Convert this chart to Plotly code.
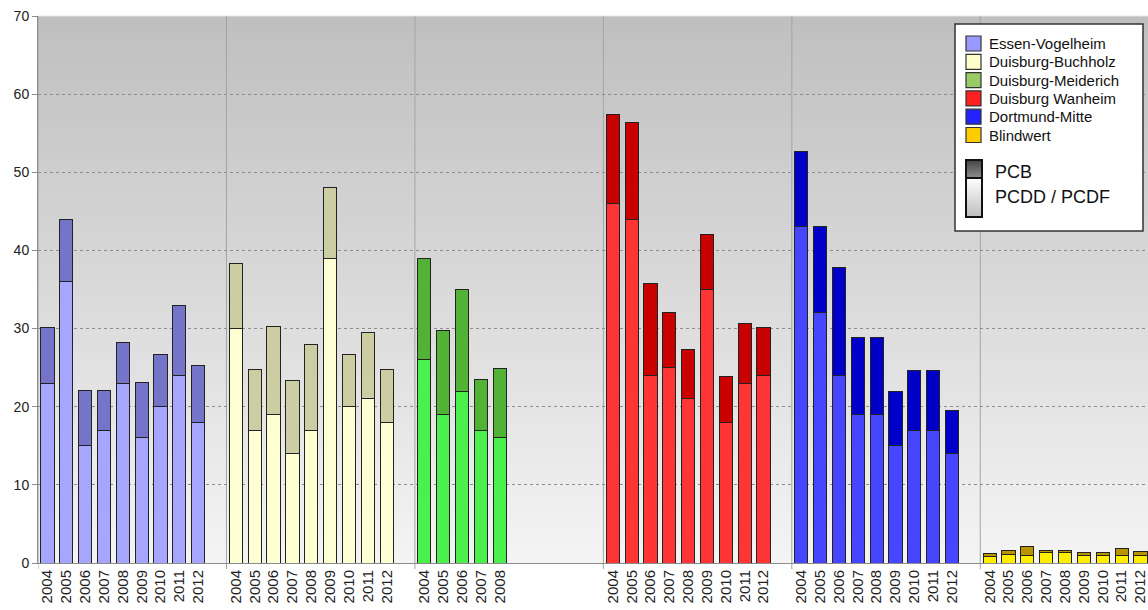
import plotly.graph_objects as go

# ---------------- data ----------------
sites = ["Essen-Vogelheim", "Duisburg-Buchholz", "Duisburg-Meiderich",
         "Duisburg Wanheim", "Dortmund-Mitte", "Blindwert"]

years_full = ["2004", "2005", "2006", "2007", "2008", "2009", "2010", "2011", "2012"]
years_short = ["2004", "2005", "2006", "2007", "2008"]

essen_total = [30.2, 44.0, 22.1, 22.1, 28.2, 23.1, 26.7, 33.0, 25.3]
essen_pcdd = [23.0, 36.0, 15.0, 17.0, 23.0, 16.0, 20.0, 24.0, 18.0]

buchholz_total = [38.3, 24.7, 30.3, 23.4, 28.0, 48.1, 26.7, 29.5, 24.8]
buchholz_pcdd = [30.0, 17.0, 19.0, 14.0, 17.0, 39.0, 20.0, 21.0, 18.0]

meiderich_total = [39.0, 29.7, 35.0, 23.5, 24.9]
meiderich_pcdd = [26.0, 19.0, 22.0, 17.0, 16.0]

wanheim_total = [57.4, 56.4, 35.8, 32.1, 27.3, 42.0, 23.9, 30.7, 30.2]
wanheim_pcdd = [46.0, 44.0, 24.0, 25.0, 21.0, 35.0, 18.0, 23.0, 24.0]

dortmund_total = [52.6, 43.0, 37.8, 28.9, 28.9, 22.0, 24.6, 24.6, 19.5]
dortmund_pcdd = [43.0, 32.0, 24.0, 19.0, 19.0, 15.0, 17.0, 17.0, 14.0]

blind_total = [1.2, 1.6, 2.1, 1.6, 1.6, 1.3, 1.3, 1.9, 1.5]
blind_pcdd = [0.8, 1.1, 1.0, 1.3, 1.3, 1.0, 0.9, 1.0, 1.0]

site_years = [years_full, years_full, years_short, years_full, years_full, years_full]
site_totals = [essen_total, buchholz_total, meiderich_total, wanheim_total, dortmund_total, blind_total]
site_pcdd = [essen_pcdd, buchholz_pcdd, meiderich_pcdd, wanheim_pcdd, dortmund_pcdd, blind_pcdd]

y_ticks = [0, 10, 20, 30, 40, 50, 60, 70]
legend_items = ["PCB", "PCDD / PCDF"]

# ---------------- styles ----------------
pcdd_colors = ["#a6a6ff", "#ffffd4", "#4cf04c", "#ff3535", "#4646ff", "#ffee00"]
pcb_colors = ["#7474c8", "#cdcda4", "#52b236", "#c80000", "#0000c8", "#b89400"]
legend_colors = ["#9999ff", "#ffffcc", "#99cc66", "#ff2020", "#2222ff", "#ffcc00"]

FONT = "Arial, Liberation Sans, sans-serif"
W, H = 1148, 610
ML, MT, MB, MR = 38, 16, 47, 0
PW, PH = W - ML - MR, H - MT - MB
SLOTS_PER_GROUP = 10

fig = go.Figure()

tickvals, ticktext = [], []
for g, name in enumerate(sites):
    xs = [g * SLOTS_PER_GROUP + i for i in range(len(site_years[g]))]
    tickvals += xs
    ticktext += site_years[g]
    pcb = [t - p for t, p in zip(site_totals[g], site_pcdd[g])]
    fig.add_trace(go.Bar(x=xs, y=site_pcdd[g], name=name + " PCDD/PCDF",
                         marker=dict(color=pcdd_colors[g], line=dict(color="#222222", width=1)),
                         width=0.7, showlegend=False))
    fig.add_trace(go.Bar(x=xs, y=pcb, name=name + " PCB",
                         marker=dict(color=pcb_colors[g], line=dict(color="#222222", width=1)),
                         width=0.7, showlegend=False))

shapes = []
# background gradient (overlapping bands, no seams)
NB = 70
for k in range(NB):
    f = (k + 0.5) / NB
    c = int(round(244 - (244 - 191) * f))
    shapes.append(dict(type="rect", xref="x domain", yref="y domain",
                       x0=0, x1=1, y0=k / NB, y1=1,
                       fillcolor=f"rgb({c},{c},{c})", line=dict(width=0), layer="below"))
# top border line
shapes.append(dict(type="line", xref="x domain", yref="y domain", x0=0, x1=1, y0=1, y1=1,
                   line=dict(color="#e6e6e6", width=1), layer="below"))
# group separators (extend below axis as ticks)
for g in range(len(sites)):
    xb = g * SLOTS_PER_GROUP - 0.5
    shapes.append(dict(type="line", xref="x", yref="paper", x0=xb, x1=xb,
                       y0=-6 / PH, y1=1, line=dict(color="#a4a4a4", width=1), layer="below"))


def px(x):
    return (x - ML) / PW


def py(y):
    return (H - MB - y) / PH


# manual legend
shapes.append(dict(type="rect", xref="paper", yref="paper",
                   x0=px(955), x1=px(1143), y0=py(231), y1=py(24),
                   fillcolor="white", line=dict(color="#333333", width=1.5), layer="above"))
annotations = []
row_y = [43.5, 61.8, 80.1, 98.4, 116.7, 135.0]
for i, name in enumerate(sites):
    yc = row_y[i]
    shapes.append(dict(type="rect", xref="paper", yref="paper",
                       x0=px(966), x1=px(981), y0=py(yc + 7.5), y1=py(yc - 7.5),
                       fillcolor=legend_colors[i], line=dict(color="#333333", width=1.2), layer="above"))
    annotations.append(dict(xref="paper", yref="paper", x=px(987), y=py(yc),
                            xanchor="left", yanchor="middle", text=name, showarrow=False,
                            font=dict(family=FONT, size=15, color="#111111")))

# PCB swatch (gradient dark)
top, bot = 160.0, 178.0
NS = 18
for k in range(NS):
    c = int(round(70 + (140 - 70) * k / (NS - 1)))
    y0 = top + (bot - top) * k / NS
    shapes.append(dict(type="rect", xref="paper", yref="paper",
                       x0=px(966), x1=px(982), y0=py(bot), y1=py(y0),
                       fillcolor=f"rgb({c},{c},{c})", line=dict(width=0), layer="above"))
# PCDD swatch (gradient light)
top2, bot2 = 178.0, 217.0
NS2 = 39
for k in range(NS2):
    c = int(round(255 - (255 - 190) * k / (NS2 - 1)))
    y0 = top2 + (bot2 - top2) * k / NS2
    shapes.append(dict(type="rect", xref="paper", yref="paper",
                       x0=px(966), x1=px(982), y0=py(bot2), y1=py(y0),
                       fillcolor=f"rgb({c},{c},{c})", line=dict(width=0), layer="above"))
shapes.append(dict(type="rect", xref="paper", yref="paper",
                   x0=px(966), x1=px(982), y0=py(bot), y1=py(top),
                   fillcolor="rgba(0,0,0,0)", line=dict(color="#111111", width=2), layer="above"))
shapes.append(dict(type="rect", xref="paper", yref="paper",
                   x0=px(966), x1=px(982), y0=py(bot2), y1=py(top2),
                   fillcolor="rgba(0,0,0,0)", line=dict(color="#111111", width=2), layer="above"))
annotations.append(dict(xref="paper", yref="paper", x=px(993), y=py(171.5),
                        xanchor="left", yanchor="middle", text=legend_items[0], showarrow=False,
                        font=dict(family=FONT, size=18, color="#111111")))
annotations.append(dict(xref="paper", yref="paper", x=px(993), y=py(197),
                        xanchor="left", yanchor="middle", text=legend_items[1], showarrow=False,
                        font=dict(family=FONT, size=18, color="#111111")))

fig.update_layout(
    width=W, height=H,
    margin=dict(l=ML, r=MR, t=MT, b=MB, pad=0),
    paper_bgcolor="white", plot_bgcolor="rgba(0,0,0,0)",
    barmode="stack", bargap=0.3,
    shapes=shapes, annotations=annotations,
    font=dict(family=FONT, color="#222222"),
    xaxis=dict(range=[-0.5, 58.4], tickmode="array", tickvals=tickvals, ticktext=ticktext,
               tickangle=-90, tickfont=dict(size=15, color="#222222"),
               ticklabeloverflow="allow",
               showgrid=False, zeroline=False, showline=True, linecolor="#8c8c8c",
               linewidth=1, ticks=""),
    yaxis=dict(range=[0, 70], tickmode="array", tickvals=y_ticks,
               tickfont=dict(size=14, color="#222222"),
               showgrid=True, gridcolor="#8e8e8e", griddash="dot", gridwidth=1,
               zeroline=False, showline=True, linecolor="#8c8c8c", linewidth=1,
               ticks="outside", ticklen=5, tickcolor="#8c8c8c"),
    showlegend=False,
)

fig.write_html("out.html")
